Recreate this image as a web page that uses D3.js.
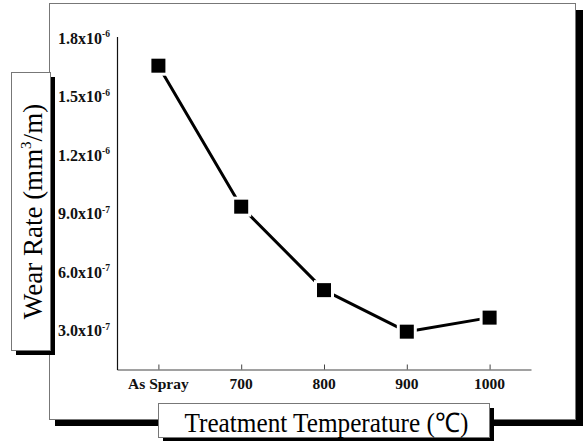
<!DOCTYPE html>
<html>
<head>
<meta charset="utf-8">
<script src="https://cdn.jsdelivr.net/npm/d3@7"></script>
<style>
  html, body { margin: 0; padding: 0; background: #fff; }
  svg { display: block; }
</style>
</head>
<body>
<svg id="chart" width="584" height="441"></svg>
<script>
// ---- data ----
const categories = ["As Spray", "700", "800", "900", "1000"];
const wearRate = [1.658e-6, 9.35e-7, 5.07e-7, 2.94e-7, 3.66e-7];
const yTicks = [3e-7, 6e-7, 9e-7, 1.2e-6, 1.5e-6, 1.8e-6];
const yTickMantissa = ["3.0", "6.0", "9.0", "1.2", "1.5", "1.8"];
const yTickExponent = ["-7", "-7", "-7", "-6", "-6", "-6"];
const xTitle = "Treatment Temperature (\u2103)";
const yTitle = ["Wear Rate (mm", "3", "/m)"];

const svg = d3.select("#chart");
const serif = "'Liberation Serif', 'Times New Roman', serif";

// ---- outer frame with drop shadow ----
svg.append("rect").attr("x", 55).attr("y", 10).attr("width", 528).attr("height", 416).attr("fill", "#000");
svg.append("rect").attr("x", 49.5).attr("y", 3.5).attr("width", 526).attr("height", 416)
  .attr("fill", "#fff").attr("stroke", "#777").attr("stroke-width", 1);

// ---- scales ----
const x = d3.scalePoint().domain(categories).range([117, 531]).padding(0.5);
const y = d3.scaleLinear().domain([1e-7, 1.8e-6]).range([369.5, 38]);

// ---- axes ----
const gx = svg.append("g").attr("transform", "translate(0,369.5)")
  .call(d3.axisBottom(x).tickSize(-5).tickSizeOuter(0).tickFormat(""));
gx.select(".domain").attr("stroke", "#444").attr("stroke-width", 1.2);
gx.selectAll(".tick line").attr("stroke", "#444");

svg.append("line").attr("x1", 117.5).attr("x2", 117.5).attr("y1", 37).attr("y2", 370)
  .attr("stroke", "#111").attr("stroke-width", 1.2);

// x tick labels
svg.append("g").selectAll("text").data(categories).join("text")
  .attr("x", d => x(d)).attr("y", 389)
  .attr("text-anchor", "middle")
  .attr("font-family", serif).attr("font-weight", "bold").attr("font-size", 15.5)
  .attr("fill", "#111")
  .text(d => d);

// y tick labels
const yl = svg.append("g").selectAll("text").data(yTicks).join("text")
  .attr("x", 58).attr("y", d => y(d) + 5.5)
  .attr("font-family", serif).attr("font-weight", "bold").attr("font-size", 16)
  .attr("fill", "#111");
yl.append("tspan").text((d, i) => yTickMantissa[i] + "x10");
yl.append("tspan").attr("dy", -6.5).attr("font-size", 9.5).text((d, i) => yTickExponent[i]);

// ---- data line and markers ----
const line = d3.line().x((d, i) => x(categories[i])).y(d => y(d));
svg.append("path").datum(wearRate).attr("d", line)
  .attr("fill", "none").attr("stroke", "#000").attr("stroke-width", 3).attr("stroke-linejoin", "round");

svg.append("g").selectAll("rect.halo").data(wearRate).join("rect")
  .attr("x", (d, i) => x(categories[i]) - 10).attr("y", d => y(d) - 10)
  .attr("width", 20).attr("height", 20).attr("fill", "#fff");
svg.append("g").selectAll("rect.mk").data(wearRate).join("rect")
  .attr("x", (d, i) => x(categories[i]) - 7).attr("y", d => y(d) - 7)
  .attr("width", 14).attr("height", 14).attr("fill", "#000");

// ---- y title box ----
svg.append("rect").attr("x", 16).attr("y", 77).attr("width", 39).attr("height", 278).attr("fill", "#000");
svg.append("rect").attr("x", 11.5).attr("y", 72.5).attr("width", 39).attr("height", 278)
  .attr("fill", "#fff").attr("stroke", "#777").attr("stroke-width", 1);
const yt = svg.append("text")
  .attr("transform", "translate(41.5,211.5) rotate(-90)")
  .attr("text-anchor", "middle")
  .attr("font-family", serif).attr("font-size", 27).attr("fill", "#000");
yt.append("tspan").text(yTitle[0]);
yt.append("tspan").attr("dy", -11).attr("font-size", 15).text(yTitle[1]);
yt.append("tspan").attr("dy", 11).text(yTitle[2]);

// ---- x title box ----
svg.append("rect").attr("x", 163).attr("y", 408).attr("width", 331).attr("height", 34).attr("fill", "#000");
svg.append("rect").attr("x", 158.5).attr("y", 403.5).attr("width", 331).attr("height", 34)
  .attr("fill", "#fff").attr("stroke", "#777").attr("stroke-width", 1);
svg.append("text")
  .attr("x", 326.5).attr("y", 432)
  .attr("text-anchor", "middle")
  .attr("font-family", serif).attr("font-size", 27).attr("fill", "#000")
  .attr("textLength", 284).attr("lengthAdjust", "spacingAndGlyphs")
  .text(xTitle);
</script>
</body>
</html>
